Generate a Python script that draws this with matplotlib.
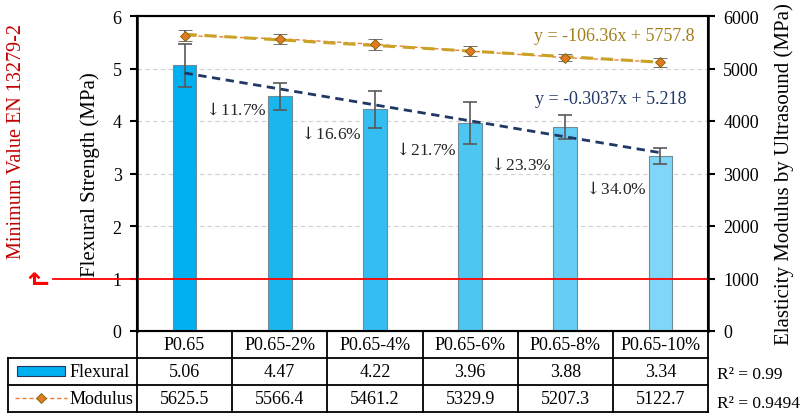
import matplotlib.pyplot as plt
import numpy as np

plt.rcParams['font.family'] = ['Liberation Serif', 'DejaVu Serif']
plt.rcParams['mathtext.fontset'] = 'dejavuserif'

categories = ["P0.65", "P0.65-2%", "P0.65-4%", "P0.65-6%", "P0.65-8%", "P0.65-10%"]
flexural = [5.06, 4.47, 4.22, 3.96, 3.88, 3.34]
flexural_err = [0.41, 0.26, 0.36, 0.40, 0.23, 0.15]
modulus = [5625.5, 5566.4, 5461.2, 5329.9, 5207.3, 5122.7]
modulus_err = [110, 95, 100, 92, 73, 86]
drops = ["11.7%", "16.6%", "21.7%", "23.3%", "34.0%"]
flex_fit = (-0.3037, 5.218)
mod_fit = (-106.36, 5757.8)
r2_flex = "0.99"
r2_mod = "0.9494"
min_value = 1.0

# where the drop labels sit (left axis units)
drop_label_y = [4.23, 3.77, 3.47, 3.18, 2.72]

bar_colors = ["#00B0F0", "#1AB7EF", "#33BEF1", "#4DC6F2", "#66CEF4", "#80D6F6"]
navy = "#1F3864"
gold = "#C9A227"
orange = "#ED7D31"

W, H = 800, 414
fig = plt.figure(figsize=(W / 100, H / 100), dpi=100)
x0, x1, y0, y1 = 137, 708, 332, 17
ax = fig.add_axes([x0 / W, 1 - y0 / H, (x1 - x0) / W, (y0 - y1) / H])
ax2 = ax.twinx()

x = np.arange(len(categories))
ax.set_xlim(-0.5, len(categories) - 0.5)
ax.set_ylim(0, 6)
ax2.set_ylim(0, 6000)

ax.bar(x, flexural, width=0.25, color=bar_colors, edgecolor="#6F8A99", linewidth=0.8, zorder=3)
ax.errorbar(x, flexural, yerr=flexural_err, fmt="none", ecolor="#595959",
            elinewidth=1.2, capsize=5, capthick=1.2, zorder=4)

# linear trend of flexural strength (x counted from 1)
xt = np.array([1, len(categories)])
ax.plot(xt - 1, flex_fit[0] * xt + flex_fit[1], color=navy, lw=2, ls=(0, (3, 2)), zorder=5)

# modulus series on the right axis
ax2.plot(x, modulus, color=orange, lw=1, ls=(0, (3, 2)), zorder=4)
ax2.plot(xt - 1, mod_fit[0] * xt + mod_fit[1], color=gold, lw=2.2, ls=(0, (4, 2.5)), zorder=5)
ax2.errorbar(x, modulus, yerr=modulus_err, fmt="D", color="#E07B24", mec="#7F6000",
             mew=0.6, ms=5, ecolor="#595959", elinewidth=1.2, capsize=5, capthick=1.2, zorder=6)

ax.set_yticks(range(7))
ax2.set_yticks(range(0, 7000, 1000))
ax.yaxis.grid(True, color="#D0D0D0", ls=(0, (4, 3)), lw=0.8)
ax.set_axisbelow(True)
ax.set_xticks([])
for a in (ax, ax2):
    a.tick_params(axis="y", direction="out", length=5, width=1.5, labelsize=13, pad=6)
    for s in a.spines.values():
        s.set_linewidth(1.5)
ax.spines["left"].set_linewidth(1.8)
ax2.spines["right"].set_linewidth(1.8)

ax.set_ylabel("Flexural Strength (MPa)", fontsize=15, labelpad=9)
ax2.set_ylabel("Elasticity Modulus by Ultrasound (MPa)", fontsize=15, labelpad=11)

# minimum value line, running out past the left axis
ax.plot([-1.383, len(categories) - 0.5], [min_value, min_value], color="red", lw=1.3,
        clip_on=False, zorder=6)
fig.text(17 / W, 1 - 142 / H, "Minimum Value EN 13279-2", rotation=90, color="#C00000",
         fontsize=14.5, ha="center", va="center")
fig.text(37 / W, 1 - 273 / H, "\u21b1", rotation=90, color="red", fontsize=19,
         fontweight="bold", family="DejaVu Sans", ha="center", va="center")

for i, d in enumerate(drops):
    ax.text(i + 0.52, drop_label_y[i], r"$\downarrow\!$" + d,
            fontsize=12.5, ha="center", va="center", color="#262626")

ax.text(4.52, 5.62, f"y = {mod_fit[0]}x + {mod_fit[1]}", color="#A07F1A",
        fontsize=13, ha="center", va="center")
ax.text(4.48, 4.42, f"y = {flex_fit[0]}x + {flex_fit[1]}", color=navy,
        fontsize=13, ha="center", va="center")

# data table below the plot
tx0, ty1 = 8, 413
tab = fig.add_axes([tx0 / W, 1 - ty1 / H, (x1 - tx0) / W, (ty1 - y0) / H])
cw = (x1 - x0) / len(categories)
left = -0.5 - (x0 - tx0) / cw
tab.set_xlim(left, len(categories) - 0.5)
tab.set_ylim(0, 3)
tab.axis("off")
lw = 1.3
for yy in (0, 1, 2):
    tab.plot([left, 5.5], [yy, yy], color="black", lw=lw, clip_on=False)
tab.plot([-0.5, 5.5], [3, 3], color="black", lw=lw, clip_on=False)
tab.plot([left, left], [0, 2], color="black", lw=lw, clip_on=False)
for b in np.arange(-0.5, 6, 1):
    tab.plot([b, b], [0, 3], color="black", lw=lw, clip_on=False)
for i, c in enumerate(categories):
    tab.text(i, 2.5, c, ha="center", va="center", fontsize=13)
    tab.text(i, 1.5, f"{flexural[i]:.2f}", ha="center", va="center", fontsize=13)
    tab.text(i, 0.5, f"{modulus[i]:.1f}", ha="center", va="center", fontsize=13)

px = lambda p: left + (p - tx0) / cw
tab.add_patch(plt.Rectangle((px(17), 1.33), px(65) - px(17), 0.36, facecolor="#00B0F0",
                            edgecolor="#1F3864", lw=0.8))
tab.text(px(70), 1.5, "Flexural", ha="left", va="center", fontsize=13)
tab.plot([px(15), px(67)], [0.52, 0.52], color=orange, lw=1, ls=(0, (3, 2)))
tab.plot([px(41)], [0.52], marker="D", ms=5, color="#E07B24", mec="#7F6000", mew=0.6)
tab.text(px(70), 0.5, "Modulus", ha="left", va="center", fontsize=13)

fig.text(717 / W, 1 - 375 / H, f"R\u00b2 = {r2_flex}", fontsize=12.5, va="center")
fig.text(717 / W, 1 - 404 / H, f"R\u00b2 = {r2_mod}", fontsize=12.5, va="center")

fig.savefig("out.png", dpi=100)
